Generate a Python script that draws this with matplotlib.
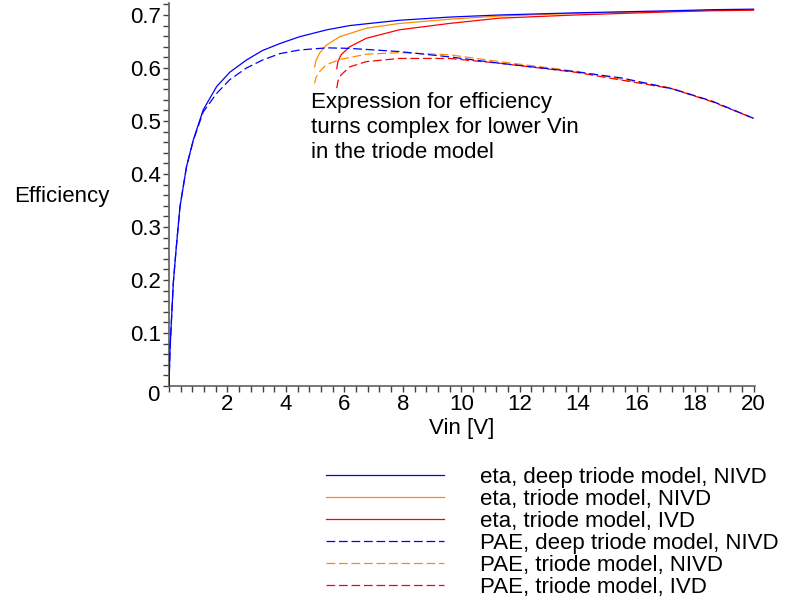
import matplotlib
matplotlib.use('Agg')
import matplotlib.pyplot as plt
from matplotlib.ticker import MultipleLocator

plt.rcParams['font.family'] = ['Liberation Sans', 'DejaVu Sans']

# eta / PAE of the deep triode model (no IVD)
vin_deep = [0, 0.034, 0.09, 0.147, 0.24, 0.375, 0.6, 0.83, 1.17, 1.63, 2.08,
            2.65, 3.2, 3.79, 4.47, 5.4, 6.18, 7.88, 9.59, 11.3, 13.9, 15.5, 17.2, 18.6, 20]
eta_deep = [0, 0.068, 0.131, 0.194, 0.256, 0.338, 0.414, 0.464, 0.521, 0.565, 0.592,
            0.615, 0.633, 0.646, 0.659, 0.672, 0.680, 0.690, 0.696, 0.700, 0.704, 0.706,
            0.708, 0.710, 0.711]
pae_deep = [0, 0.068, 0.131, 0.194, 0.256, 0.338, 0.414, 0.463, 0.517, 0.552, 0.578,
            0.600, 0.615, 0.627, 0.634, 0.638, 0.637, 0.631, 0.621, 0.609, 0.593, 0.581,
            0.561, 0.537, 0.505]

# triode model, NIVD
vin_tri = [4.98, 5.03, 5.15, 5.38, 5.84, 6.75, 7.88, 9.59, 11.3, 13.9, 17.2, 18.6, 20]
eta_tri = [0.602, 0.614, 0.628, 0.643, 0.659, 0.675, 0.684, 0.692, 0.698, 0.703, 0.707,
           0.709, 0.710]
pae_tri = [0.571, 0.582, 0.593, 0.606, 0.616, 0.626, 0.629, 0.625, 0.612, 0.594, 0.562,
           0.537, 0.505]

# triode model, IVD
vin_ivd = [5.74, 5.78, 5.89, 6.18, 6.75, 7.88, 9.59, 11.3, 13.9, 17.2, 18.6, 20]
eta_ivd = [0.599, 0.612, 0.625, 0.640, 0.656, 0.672, 0.684, 0.694, 0.700, 0.706, 0.708, 0.709]
pae_ivd = [0.562, 0.575, 0.587, 0.602, 0.612, 0.618, 0.618, 0.609, 0.592, 0.561, 0.536, 0.505]

labels = ['eta, deep triode model, NIVD', 'eta, triode model, NIVD', 'eta, triode model, IVD',
          'PAE, deep triode model, NIVD', 'PAE, triode model, NIVD', 'PAE, triode model, IVD']

orange = '#ff8c00'
lw = 0.9
dash = (7, 3)

fig = plt.figure(figsize=(7.91, 6.02), dpi=100)
ax = fig.add_axes([169/791, 1 - 386/602, 586/791, 383/602])

l1, = ax.plot(vin_deep, eta_deep, color='blue', lw=lw, zorder=4)
l2, = ax.plot(vin_tri, eta_tri, color=orange, lw=lw, zorder=2)
l3, = ax.plot(vin_ivd, eta_ivd, color='red', lw=lw, zorder=3)
l4, = ax.plot(vin_deep, pae_deep, color='blue', lw=lw, dashes=dash, zorder=4)
l5, = ax.plot(vin_tri, pae_tri, color=orange, lw=lw, dashes=dash, zorder=2)
l6, = ax.plot(vin_ivd, pae_ivd, color='red', lw=lw, dashes=dash, zorder=3)

ax.set_xlim(0, 20.05)
ax.set_ylim(0, 0.7226)
for s in ['top', 'right']:
    ax.spines[s].set_visible(False)
for s in ['left', 'bottom']:
    ax.spines[s].set_color('#606060')
    ax.spines[s].set_linewidth(1.2)

ax.xaxis.set_major_locator(MultipleLocator(2))
ax.xaxis.set_minor_locator(MultipleLocator(0.4))
ax.yaxis.set_major_locator(MultipleLocator(0.1))
ax.yaxis.set_minor_locator(MultipleLocator(0.02))
ax.tick_params(which='both', direction='out', length=4, width=1, color='#404040',
               labelsize=16, pad=2)
ax.set_xticks(range(2, 21, 2))
ax.set_yticks([0, 0.1, 0.2, 0.3, 0.4, 0.5, 0.6, 0.7])
ax.set_yticklabels(['', '0.1', '0.2', '0.3', '0.4', '0.5', '0.6', '0.7'])
# origin label sits below-left of the axes crossing
ax.annotate('0', xy=(0, 0), xytext=(-6.5, -6.5), textcoords='offset points',
            ha='right', va='center', fontsize=16)

ax.set_xlabel('Vin [V]', fontsize=16, labelpad=2)
ax.set_ylabel('Efficiency', fontsize=16, rotation=0, labelpad=0, va='center')
ax.yaxis.set_label_coords(-0.183, 0.496)

ax.text(4.85, 0.555, 'Expression for efficiency\nturns complex for lower Vin\nin the triode model',
        fontsize=16, va='top', ha='left', linespacing=1.27)

fig.legend([l1, l2, l3, l4, l5, l6], labels, loc='upper left',
           bbox_to_anchor=(326/791, 1 - 467/602), frameon=False, fontsize=16,
           handlelength=5.3, handletextpad=1.65, labelspacing=0.045,
           borderpad=0, borderaxespad=0)

fig.savefig('out.png', dpi=100)
